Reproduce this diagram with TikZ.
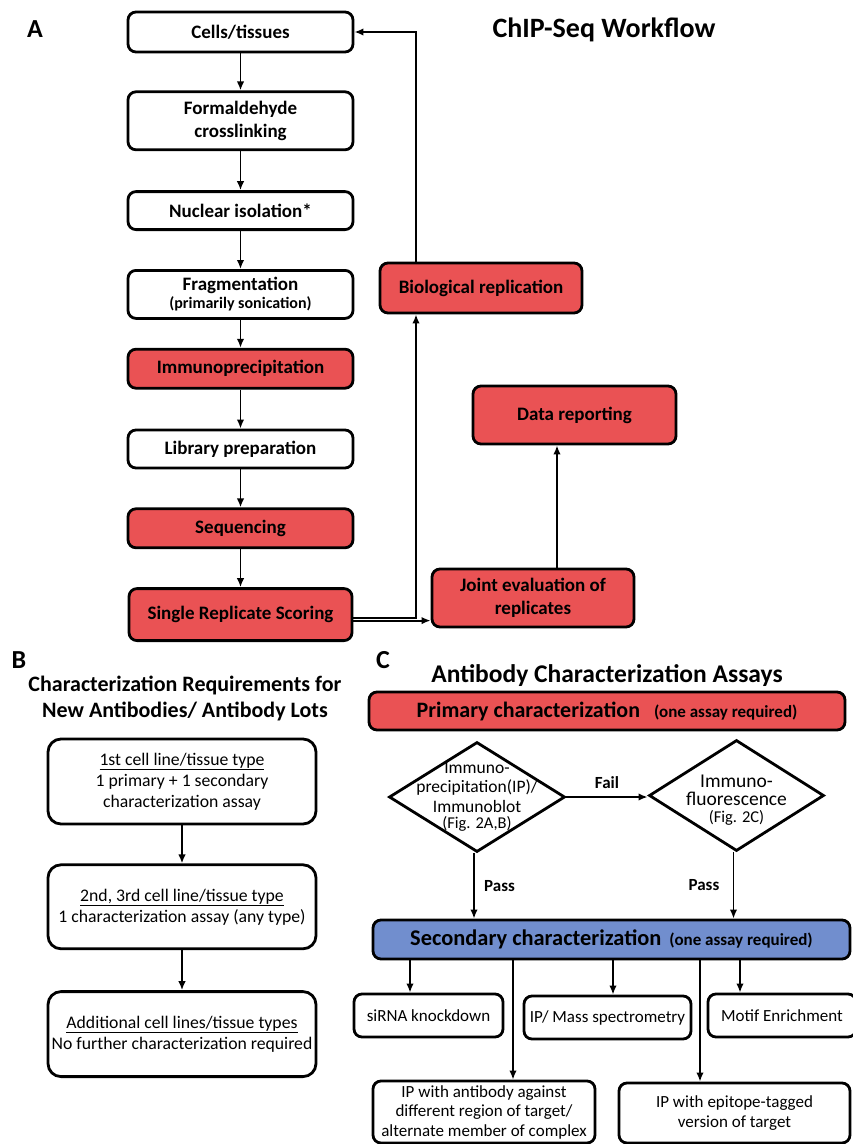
\documentclass[tikz,border=0pt]{standalone}
\usepackage{fontspec}
\setmainfont{Carlito}
\usepackage{tikz}
\usetikzlibrary{arrows,arrows.meta}
\usetikzlibrary{positioning}
\usetikzlibrary{shapes}
\definecolor{chipred}{RGB}{234,82,84}
\definecolor{chipblue}{RGB}{113,142,206}

\begin{document}
\begin{tikzpicture}[x=1pt,y=-1pt,>={Latex[length=9pt,width=7.5pt]},auto,
    box/.style={draw,rounded corners=8pt,line width=2.8pt,align=center,inner sep=2pt,
      font=\fontsize{19}{23}\selectfont\bfseries},
    redbox/.style={box,fill=chipred},
    bluebox/.style={box,fill=chipblue},
    reqbox/.style={box,rounded corners=13pt,minimum width=268pt,minimum height=85pt,
      font=\fontsize{17.7}{21}\selectfont},
    assay/.style={box,font=\fontsize{17}{19.5}\selectfont},
    test/.style={draw,diamond,line width=2.8pt,inner sep=0pt},
    link/.style={line width=1.8pt},
    panel/.style={font=\fontsize{26}{30}\selectfont\bfseries},
    heading/.style={align=center,font=\fontsize{28}{32}\selectfont\bfseries}]
  \useasboundingbox (0,0) rectangle (853,1144);

  % panel A
  \node[panel]                  (labA)  at (35,29)    {A};
  \node[heading]                (titA)  at (604,30)   {ChIP-Seq Workflow};
  \node[box,minimum width=225pt,minimum height=40pt]  (cells) at (240.5,32) {Cells/tissues};
  \node[box,minimum width=225pt,minimum height=58pt]  (form)  [below=37pt of cells] {Formaldehyde\\crosslinking};
  \node[box,minimum width=225pt,minimum height=38pt]  (nuc)   [below=39pt of form]  {Nuclear isolation*};
  \node[box,minimum width=225pt,minimum height=48pt]  (frag)  [below=38pt of nuc]
        {Fragmentation\\[-5pt]{\fontsize{16}{18}\selectfont (primarily sonication)}};
  \node[redbox,minimum width=225pt,minimum height=39pt] (immuno) [below=28pt of frag] {Immunoprecipitation};
  \node[box,minimum width=225pt,minimum height=38pt]  (lib)   [below=39pt of immuno] {Library preparation};
  \node[redbox,minimum width=225pt,minimum height=39pt] (seq)  [below=38pt of lib]  {Sequencing};
  \node[redbox,minimum width=223pt,minimum height=52pt] (srs)  [below=38pt of seq]  {Single Replicate Scoring};
  \node[redbox,minimum width=202pt,minimum height=50pt] (bio)   at (481,288)   {Biological replication};
  \node[redbox,minimum width=203pt,minimum height=58pt] (data)  at (574.5,415) {Data reporting};
  \node[redbox,minimum width=202pt,minimum height=58pt] (joint) at (533,598)   {Joint evaluation of\\replicates};

  \path[->,link]
    (cells)  edge (form)
    (form)   edge (nuc)
    (nuc)    edge (frag)
    (frag)   edge (immuno)
    (immuno) edge (lib)
    (lib)    edge (seq)
    (seq)    edge (srs);
  \draw[->,link] ([yshift=-3pt]srs.east) -| ([xshift=-65pt]bio.south);
  \draw[->,link] ([xshift=-65pt]bio.north) |- (cells.east);
  \draw[->,link] ([yshift=-6pt]srs.east) -- ([yshift=-6pt]srs.east -| joint.west);
  \draw[->,link] ([xshift=24pt]joint.north) -- ([xshift=24pt]joint.north |- data.south);

  % panel B
  \node[panel]  (labB) at (19,660) {B};
  \node[heading,font=\fontsize{22}{26}\selectfont\bfseries] (titB) at (185,698)
        {Characterization Requirements for\\New Antibodies/ Antibody Lots};
  \node[reqbox] (first) at (182,781.5)
        {\underline{1st cell line/tissue type}\\1 primary + 1 secondary\\characterization assay};
  \node[reqbox,minimum height=84pt] (second) [below=38pt of first]
        {\underline{2nd, 3rd cell line/tissue type}\\1 characterization assay (any type)};
  \node[reqbox] (more) [below=40pt of second]
        {\underline{Additional cell lines/tissue types}\\No further characterization required};
  \path[->,link]
    (first)  edge (second)
    (second) edge (more);

  % panel C
  \node[panel]  (labC) at (383,660) {C};
  \node[heading,font=\fontsize{25.5}{30}\selectfont\bfseries] (titC) at (607,676) {Antibody Characterization Assays};
  \node[redbox,minimum width=476pt,minimum height=38pt] (prim) at (607,711)
        {{\fontsize{22}{26}\selectfont Primary characterization}\hspace{14pt}{\fontsize{17}{20}\selectfont (one assay required)}};
  \node[test,minimum width=176pt,minimum height=110pt,
        label={[name=iptext,align=center,font=\fontsize{17.5}{19.5}\selectfont]center:Immuno-\\precipitation(IP)/\\Immunoblot\\[-3pt]{\fontsize{16.5}{18}\selectfont (Fig. 2A,B)}}]
        (ip) at (477,797) {};
  \node[test,minimum width=175pt,minimum height=111pt,
        label={[name=iftext,align=center,yshift=-5pt,font=\fontsize{19.5}{17.5}\selectfont]center:Immuno-\\fluorescence\\{\fontsize{16.5}{18}\selectfont (Fig. 2C)}}]
        (if) at (736.5,795.5) {};
  \node[bluebox,minimum width=477pt,minimum height=39pt] (sec) at (611.5,939.5)
        {{\fontsize{22.4}{26}\selectfont Secondary characterization}\hspace{8pt}{\fontsize{17}{20}\selectfont (one assay required)}};
  \node[assay,minimum width=149pt,minimum height=43pt] (sirna) at (428.5,1015.5) {siRNA knockdown};
  \node[assay,minimum width=167pt,minimum height=43pt] (ipms)  at (607.5,1017.5) {IP/ Mass spectrometry};
  \node[assay,minimum width=148pt,minimum height=43pt] (motif) at (782,1015.5)   {Motif Enrichment};
  \node[assay,minimum width=222pt,minimum height=62pt] (ipab)  at (484,1112)
        {IP with antibody against\\different region of target/\\alternate member of complex};
  \node[assay,minimum width=231pt,minimum height=60pt] (epi)   at (734.5,1113)
        {IP with epitope-tagged\\version of target};

  \draw[->,link] (ip.east) -- (ip.east -| if.west) node[midway,above=4pt,font=\fontsize{17}{20}\selectfont\bfseries] {Fail};
  \draw[->,link] ([xshift=-3pt]ip.south) -- ([xshift=-3pt]ip.south |- sec.north)
        node[midway,right=6pt,font=\fontsize{17}{20}\selectfont\bfseries] {Pass};
  \draw[->,link] ([xshift=-3pt]if.south) -- ([xshift=-3pt]if.south |- sec.north)
        node[midway,left=10pt,font=\fontsize{17}{20}\selectfont\bfseries] {Pass};
  \draw[->,link] ([xshift=-18.5pt]sirna.north |- sec.south) -- ([xshift=-18.5pt]sirna.north);
  \draw[->,link] ([xshift=5.5pt]ipms.north |- sec.south) -- ([xshift=5.5pt]ipms.north);
  \draw[->,link] ([xshift=-42pt]motif.north |- sec.south) -- ([xshift=-42pt]motif.north);
  \draw[->,link] ([xshift=29pt]ipab.north |- sec.south) -- ([xshift=29pt]ipab.north);
  \draw[->,link] ([xshift=-34.5pt]epi.north |- sec.south) -- ([xshift=-34.5pt]epi.north);
\end{tikzpicture}
\end{document}
